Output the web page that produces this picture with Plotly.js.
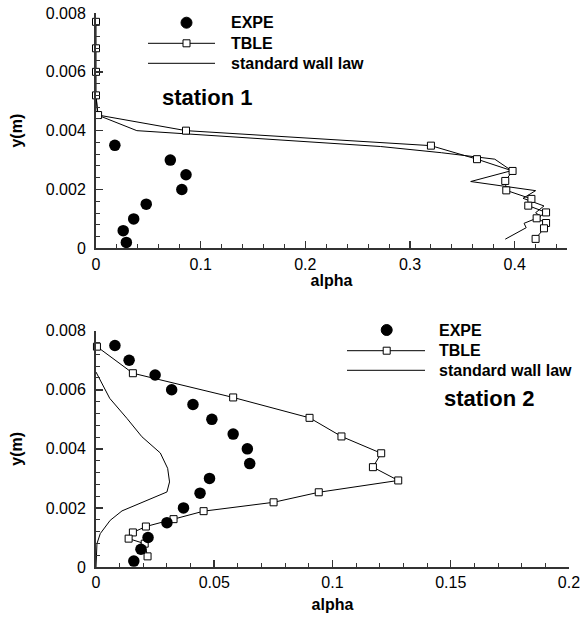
<!DOCTYPE html>
<html><head><meta charset="utf-8">
<script src="https://cdn.plot.ly/plotly-3.0.1.min.js"></script>
<style>html,body{margin:0;padding:0;background:#fff}</style>
</head><body><div id="chart" style="width:580px;height:623px"></div>
<script>
// ---------- Station 1 ----------
const expe1Alpha = [0.018, 0.071, 0.086, 0.082, 0.048, 0.036, 0.026, 0.029];
const expe1Y     = [0.0035, 0.0030, 0.0025, 0.0020, 0.0015, 0.0010, 0.0006, 0.0002];
const tble1Alpha = [0, 0, 0, 0, 0.002, 0.086, 0.320, 0.364, 0.398, 0.391, 0.392, 0.416, 0.413, 0.430, 0.421, 0.430, 0.428, 0.420];
const tble1Y     = [0.0077, 0.0068, 0.0060, 0.0052, 0.00453, 0.0040, 0.00349, 0.00303, 0.00263, 0.00229, 0.00197, 0.00168, 0.00145, 0.00122, 0.00102, 0.00086, 0.00068, 0.00032];
const wall1Alpha = [0, 0.0015, 0.039, 0.272, 0.330, 0.381, 0.397, 0.358, 0.420, 0.408, 0.428, 0.420, 0.425, 0.409, 0.411, 0.391];
const wall1Y     = [0.0052, 0.00453, 0.0040, 0.00346, 0.00325, 0.00303, 0.00264, 0.00227, 0.00196, 0.00170, 0.00144, 0.00121, 0.00108, 0.00085, 0.00070, 0.00031];
// ---------- Station 2 ----------
const expe2Alpha = [0.008, 0.014, 0.025, 0.032, 0.041, 0.049, 0.058, 0.064, 0.065, 0.048, 0.044, 0.037, 0.030, 0.022, 0.019, 0.016];
const expe2Y     = [0.0075, 0.0070, 0.0065, 0.0060, 0.0055, 0.0050, 0.0045, 0.0040, 0.0035, 0.0030, 0.0025, 0.0020, 0.0015, 0.0010, 0.0006, 0.0002];
const tble2Alpha = [0.0004, 0.0156, 0.058, 0.0903, 0.1038, 0.1206, 0.1171, 0.1278, 0.0942, 0.0751, 0.0455, 0.0328, 0.0211, 0.0156, 0.0138, 0.0206, 0.0218];
const tble2Y     = [0.00746, 0.00656, 0.00574, 0.00505, 0.00442, 0.00385, 0.00338, 0.00293, 0.00253, 0.00219, 0.00189, 0.00162, 0.00137, 0.00117, 0.00096, 0.00079, 0.00036];
const wall2Alpha = [0, 0.0058, 0.0131, 0.0194, 0.0272, 0.0303, 0.0311, 0.030, 0.011, 0.006, 0.0018, 0.0004, 0];
const wall2Y     = [0.0066, 0.00571, 0.00503, 0.00441, 0.00386, 0.00334, 0.00288, 0.00254, 0.0019, 0.00158, 0.00113, 0.00079, 0];
// ---------- Ticks / labels ----------
const xTicks1 = [0, 0.1, 0.2, 0.3, 0.4];
const xTickText1 = ['0', '0.1', '0.2', '0.3', '0.4'];
const xTicks2 = [0, 0.05, 0.1, 0.15, 0.2];
const xTickText2 = ['0', '0.05', '0.1', '0.15', '0.2'];
const yTicks = [0, 0.002, 0.004, 0.006, 0.008];
const yTickText = ['0', '0.002', '0.004', '0.006', '0.008'];
const seriesNames = ['EXPE', 'TBLE', 'standard wall law'];
const stationNames = ['station 1', 'station 2'];

const FONT = 'Liberation Sans, Arial, Helvetica, sans-serif';
const W = 580, H = 623, L = 96, R = 11, T = 13, B = 56;
const PW = W - L - R, PH = H - T - B;
const px = p => (p - L) / PW;
const py = p => (H - B - p) / PH;

function expeTrace(x, y, xa, ya) {
  return {x, y, xaxis: xa, yaxis: ya, type: 'scatter', mode: 'markers', cliponaxis: false,
    marker: {symbol: 'circle', size: 11.5, color: '#000'}, showlegend: false, hoverinfo: 'skip'};
}
function tbleTrace(x, y, xa, ya) {
  return {x, y, xaxis: xa, yaxis: ya, type: 'scatter', mode: 'lines+markers', cliponaxis: false,
    line: {color: '#000', width: 1}, marker: {symbol: 'square', size: 7, color: '#fff', line: {color: '#000', width: 1}},
    showlegend: false, hoverinfo: 'skip'};
}
function wallTrace(x, y, xa, ya) {
  return {x, y, xaxis: xa, yaxis: ya, type: 'scatter', mode: 'lines', cliponaxis: false,
    line: {color: '#000', width: 1}, showlegend: false, hoverinfo: 'skip'};
}

const data = [
  wallTrace(wall1Alpha, wall1Y, 'x', 'y'),
  tbleTrace(tble1Alpha, tble1Y, 'x', 'y'),
  expeTrace(expe1Alpha, expe1Y, 'x', 'y'),
  wallTrace(wall2Alpha, wall2Y, 'x2', 'y2'),
  tbleTrace(tble2Alpha, tble2Y, 'x2', 'y2'),
  expeTrace(expe2Alpha, expe2Y, 'x2', 'y2')
];

function xAxis(domain, range, tickvals, ticktext, minorDt, anchor, standoff) {
  return {domain, range, anchor, tickvals, ticktext, ticks: 'inside', ticklen: 7, tickwidth: 1.5, tickcolor: '#333',
    minor: {dtick: minorDt, tick0: 0, ticks: 'inside', ticklen: 4, tickwidth: 1, tickcolor: '#333'},
    showline: true, linecolor: '#333', linewidth: 2, showgrid: false, zeroline: false,
    ticklabeloverflow: 'allow',
    tickfont: {family: FONT, size: 16, color: '#000'},
    title: {text: '<b>alpha</b>', font: {family: FONT, size: 16, color: '#000'}, standoff}};
}
function yAxis(domain, anchor) {
  return {domain, range: [0, 0.008], anchor, tickvals: yTicks, ticktext: yTickText, ticks: 'inside', ticklen: 7, tickwidth: 1.5, tickcolor: '#333',
    minor: {dtick: 0.0004, tick0: 0, ticks: 'inside', ticklen: 4, tickwidth: 1, tickcolor: '#333'},
    showline: true, linecolor: '#333', linewidth: 2, showgrid: false, zeroline: false,
    ticklabelstandoff: 5, ticklabeloverflow: 'allow',
    tickfont: {family: FONT, size: 16, color: '#000'},
    title: {text: '<b>y(m)</b>', font: {family: FONT, size: 16, color: '#000'}, standoff: 19}};
}

const shapes = [], annotations = [];
function legend(cx, lineX0, lineX1, yExpe, yTble, yWall, textX, stX, stY, station) {
  shapes.push({type: 'circle', xref: 'paper', yref: 'paper', xsizemode: 'pixel', ysizemode: 'pixel',
    xanchor: px(cx), yanchor: py(yExpe), x0: -5.5, x1: 5.5, y0: -5.5, y1: 5.5, fillcolor: '#000', line: {color: '#000', width: 1}});
  shapes.push({type: 'line', xref: 'paper', yref: 'paper', x0: px(lineX0), x1: px(lineX1), y0: py(yTble), y1: py(yTble), line: {color: '#000', width: 1}});
  shapes.push({type: 'rect', xref: 'paper', yref: 'paper', xsizemode: 'pixel', ysizemode: 'pixel',
    xanchor: px(cx), yanchor: py(yTble), x0: -3.5, x1: 3.5, y0: -3.5, y1: 3.5, fillcolor: '#fff', line: {color: '#000', width: 1}});
  shapes.push({type: 'line', xref: 'paper', yref: 'paper', x0: px(lineX0), x1: px(lineX1), y0: py(yWall), y1: py(yWall), line: {color: '#000', width: 1}});
  [[yExpe, seriesNames[0]], [yTble, seriesNames[1]], [yWall, seriesNames[2]]].forEach(([yy, t]) => {
    annotations.push({xref: 'paper', yref: 'paper', x: px(textX), y: py(yy), xanchor: 'left', yanchor: 'middle',
      text: '<b>' + t + '</b>', showarrow: false, font: {family: FONT, size: 16, color: '#000'}, borderpad: 0});
  });
  annotations.push({xref: 'paper', yref: 'paper', x: px(stX), y: py(stY), xanchor: 'left', yanchor: 'middle',
    text: '<b>' + station + '</b>', showarrow: false, font: {family: FONT, size: 22, color: '#000'}, borderpad: 0});
}
legend(186.5, 148, 215, 22.7, 43.3, 63.3, 230, 161, 97, stationNames[0]);
legend(386.7, 347, 425, 330, 350.7, 370.3, 438, 443, 398, stationNames[1]);

const layout = {
  width: W, height: H, margin: {l: L, r: R, t: T, b: B}, paper_bgcolor: '#fff', plot_bgcolor: '#fff',
  showlegend: false, font: {family: FONT, color: '#000'},
  xaxis: xAxis([0, (567 - L) / PW], [0, 0.45], xTicks1, xTickText1, 0.02, 'y', 2),
  yaxis: yAxis([py(248.3), 1], 'x'),
  xaxis2: xAxis([0, 1], [0, 0.20002], xTicks2, xTickText2, 0.01, 'y2', 9),
  yaxis2: yAxis([0, py(330.7)], 'x2'),
  shapes, annotations
};
Plotly.newPlot('chart', data, layout, {displayModeBar: false, staticPlot: true});
</script></body></html>
